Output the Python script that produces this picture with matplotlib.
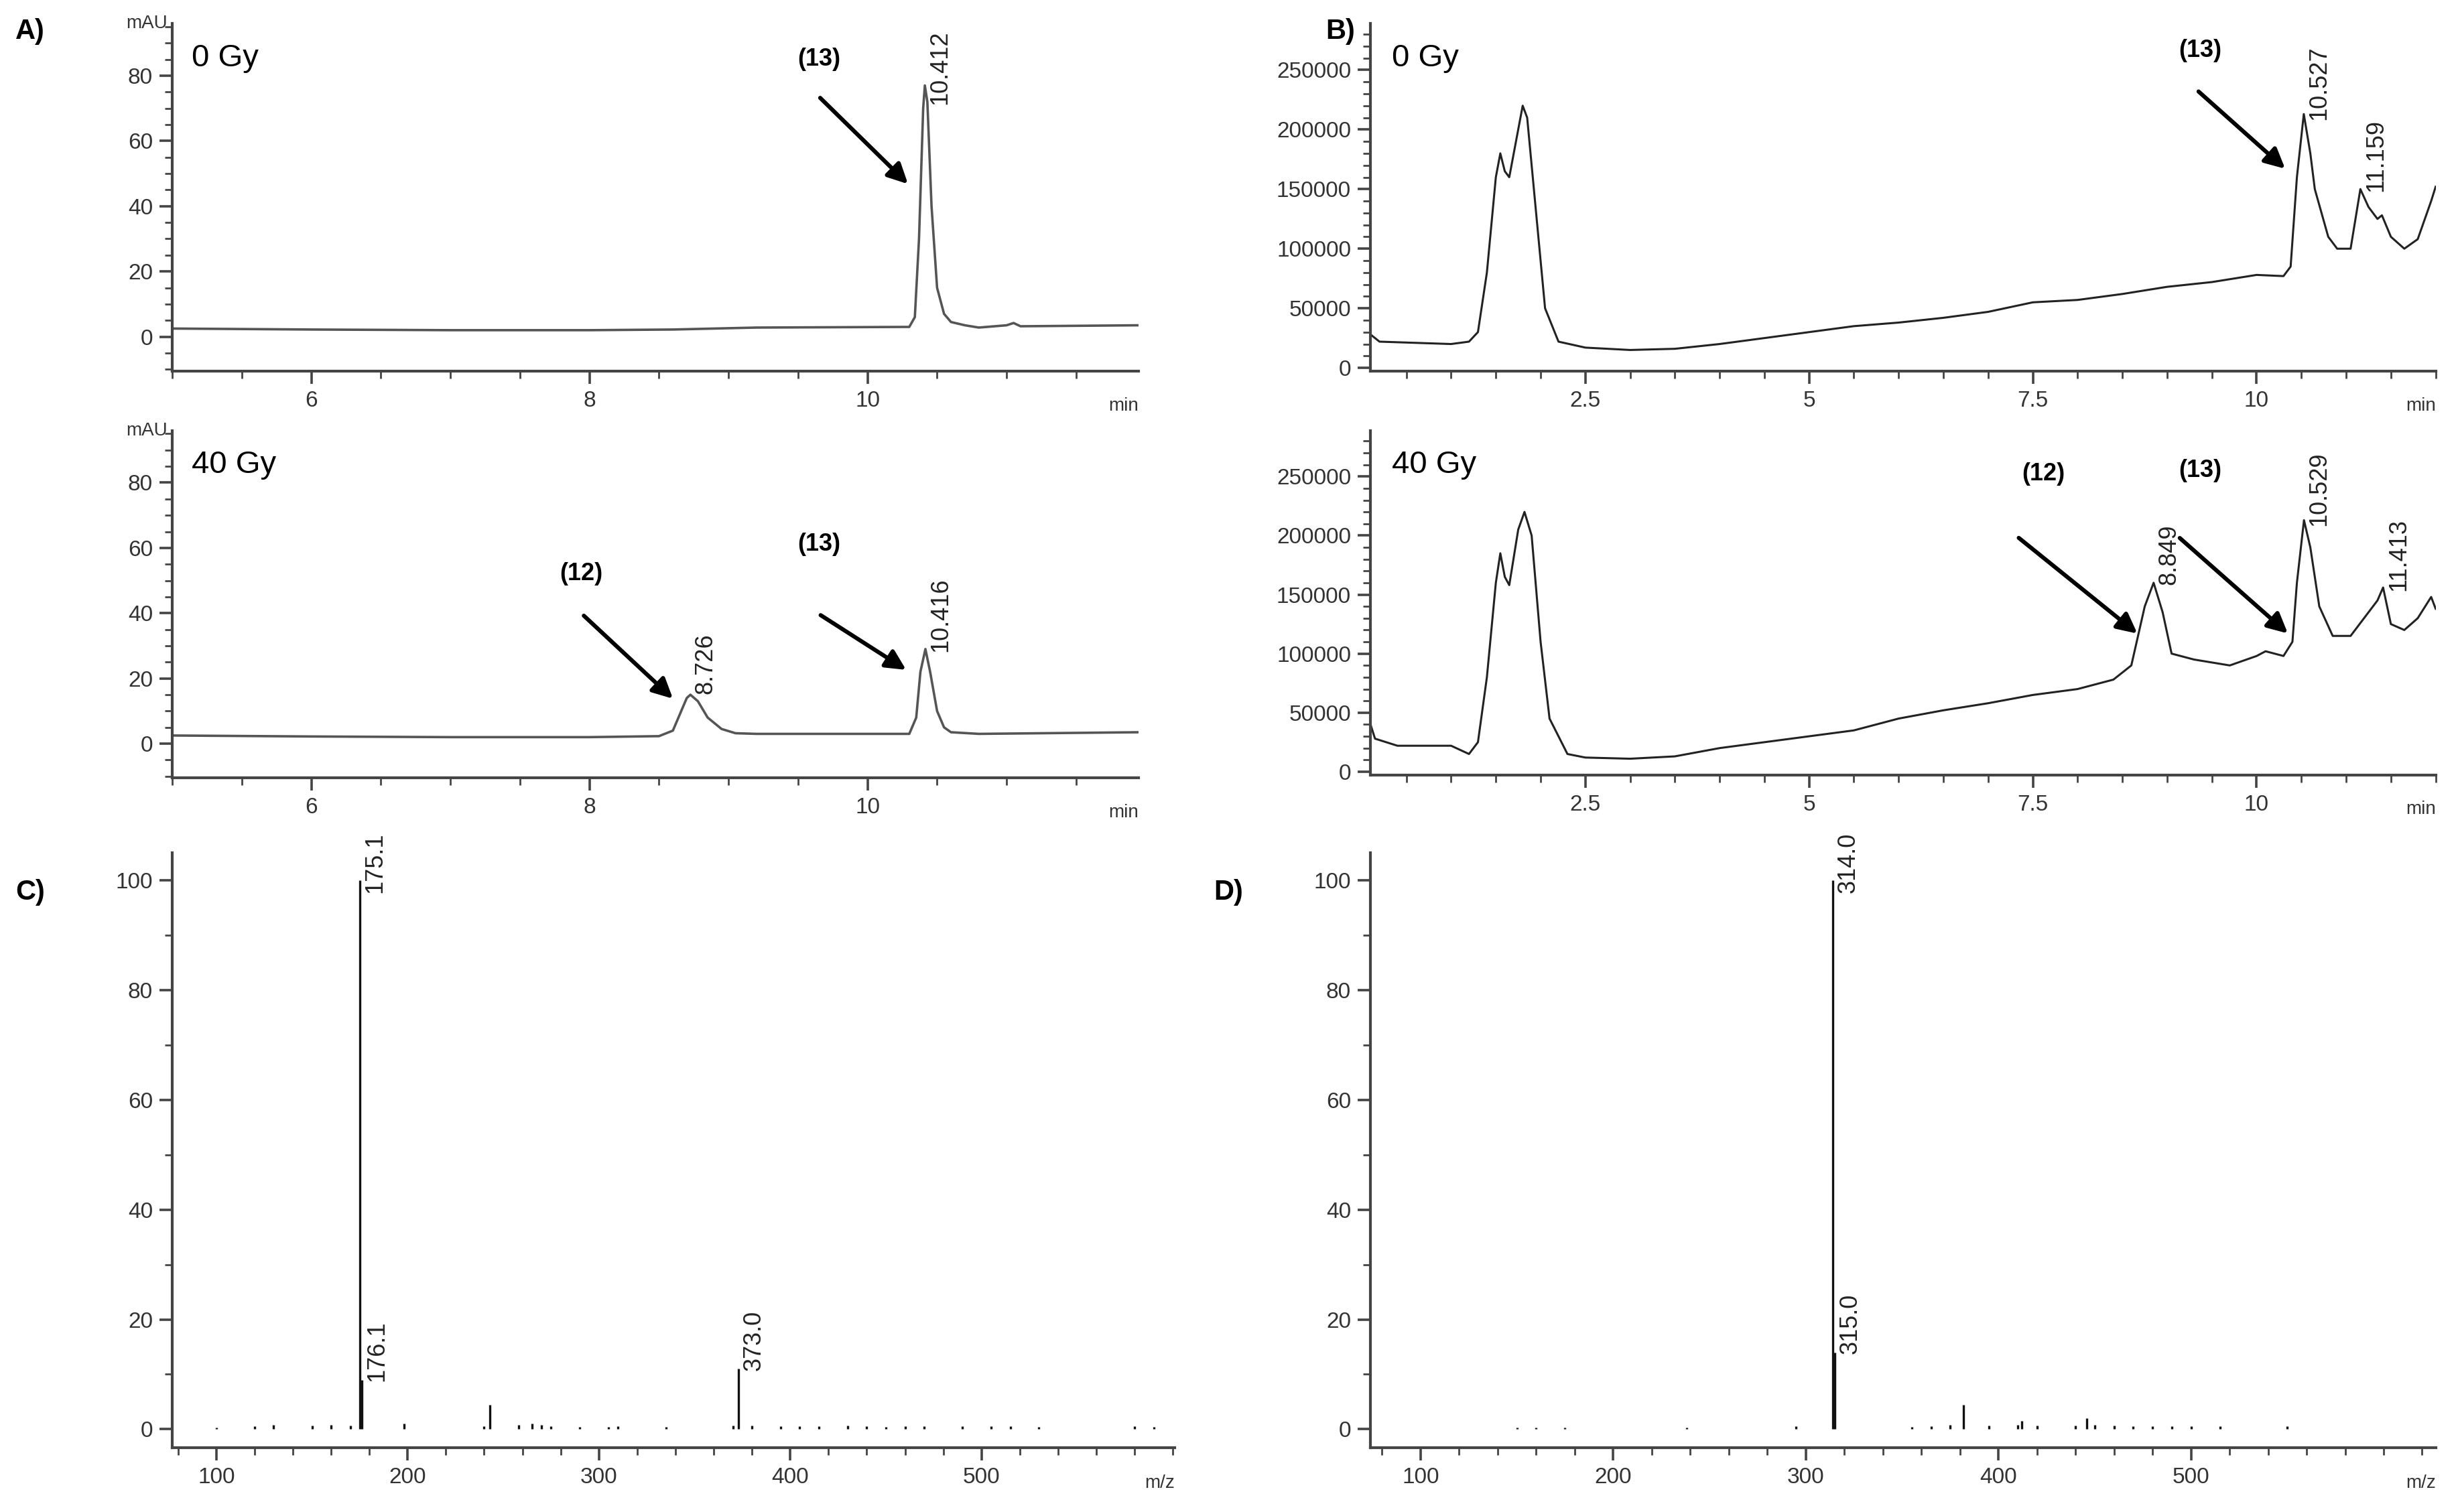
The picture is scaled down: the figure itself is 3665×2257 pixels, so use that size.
import matplotlib
matplotlib.use("Agg")
import matplotlib.pyplot as plt
from matplotlib.ticker import MultipleLocator

plt.rcParams['font.family'] = ['Liberation Sans', 'DejaVu Sans']

# ---- Data ----
a0_t = [5, 6, 7, 8, 8.6, 9.2, 10.3, 10.34, 10.37, 10.40, 10.412, 10.43, 10.46, 10.5, 10.55, 10.6, 10.7, 10.8, 11.0, 11.05, 11.1, 11.95]
a0_v = [2.5, 2.2, 2.0, 2.0, 2.2, 2.8, 3.0, 6, 30, 70, 77, 72, 40, 15, 7, 4.5, 3.5, 2.8, 3.5, 4.2, 3.2, 3.5]
a40_t = [5, 6, 7, 8, 8.5, 8.6, 8.65, 8.7, 8.726, 8.78, 8.85, 8.95, 9.05, 9.2, 10.3, 10.35, 10.38, 10.416, 10.45, 10.5, 10.55, 10.6, 10.8, 11.95]
a40_v = [2.5, 2.2, 2.0, 2.0, 2.3, 4, 9, 14, 15, 13, 8, 4.5, 3.2, 3, 3, 8, 22, 29, 22, 10, 5, 3.5, 3, 3.5]

b0_t = [0.1, 0.2, 1.0, 1.2, 1.3, 1.4, 1.5, 1.55, 1.6, 1.65, 1.75, 1.8, 1.85, 1.95, 2.05, 2.2, 2.5, 3, 3.5, 4, 4.5, 5, 5.5, 6, 6.5, 7, 7.5, 8, 8.5, 9, 9.5, 10, 10.3, 10.38, 10.45, 10.527, 10.6, 10.65, 10.8, 10.9, 11.05, 11.159, 11.25, 11.35, 11.4, 11.5, 11.65, 11.8, 11.95, 12.0]
b0_v = [28000, 22000, 20000, 22000, 30000, 80000, 160000, 180000, 165000, 160000, 200000, 220000, 210000, 130000, 50000, 22000, 17000, 15000, 16000, 20000, 25000, 30000, 35000, 38000, 42000, 47000, 55000, 57000, 62000, 68000, 72000, 78000, 77000, 85000, 160000, 213000, 180000, 150000, 110000, 100000, 100000, 150000, 135000, 125000, 128000, 110000, 100000, 108000, 140000, 152000]
b40_t = [0.1, 0.15, 0.4, 1.0, 1.2, 1.3, 1.4, 1.5, 1.55, 1.6, 1.65, 1.75, 1.82, 1.9, 2.0, 2.1, 2.3, 2.5, 3, 3.5, 4, 4.5, 5, 5.5, 6, 6.5, 7, 7.5, 8, 8.4, 8.6, 8.75, 8.849, 8.95, 9.05, 9.3, 9.7, 10, 10.1, 10.3, 10.4, 10.45, 10.529, 10.6, 10.7, 10.85, 11.05, 11.2, 11.35, 11.413, 11.5, 11.65, 11.8, 11.95, 12.0]
b40_v = [40000, 28000, 22000, 22000, 15000, 25000, 80000, 160000, 185000, 165000, 158000, 205000, 220000, 200000, 110000, 45000, 15000, 12000, 11000, 13000, 20000, 25000, 30000, 35000, 45000, 52000, 58000, 65000, 70000, 78000, 90000, 140000, 160000, 135000, 100000, 95000, 90000, 98000, 102000, 98000, 110000, 160000, 213000, 190000, 140000, 115000, 115000, 130000, 145000, 156000, 125000, 120000, 130000, 148000, 138000]

c_mz = [100, 120, 130, 150, 160, 170, 175.1, 176.1, 198, 240, 243, 258, 265, 270, 275, 290, 305, 310, 335, 370, 373.0, 380, 395, 405, 415, 430, 440, 450, 460, 470, 490, 505, 515, 530, 580, 590]
c_int = [0.3, 0.5, 0.8, 0.6, 0.8, 0.7, 100, 9, 1.0, 0.5, 4.5, 0.8, 1.0, 0.8, 0.5, 0.4, 0.4, 0.5, 0.4, 0.6, 11, 0.6, 0.5, 0.5, 0.5, 0.6, 0.5, 0.4, 0.5, 0.5, 0.5, 0.5, 0.5, 0.4, 0.5, 0.4]
d_mz = [150, 160, 175, 238, 295, 314.0, 315.0, 355, 365, 375, 382, 395, 410, 412, 420, 440, 446, 450, 460, 470, 480, 490, 500, 515, 550]
d_int = [0.3, 0.3, 0.3, 0.3, 0.5, 100, 14, 0.4, 0.5, 0.8, 4.5, 0.6, 0.8, 1.5, 0.6, 0.6, 2.0, 0.8, 0.6, 0.5, 0.5, 0.5, 0.5, 0.5, 0.5]
ms_ticks = [100, 200, 300, 400, 500]

W, H = 1568.0, 966.0
def box(x0, y0, x1, y1):
    return [x0 / W, 1 - y1 / H, (x1 - x0) / W, (y1 - y0) / H]

fig = plt.figure(figsize=(18.325, 11.285), dpi=200)
SP = '#444444'
TS = 12

def style(ax, xmaj, xmin, ymaj, ymin):
    for s in ['top', 'right']:
        ax.spines[s].set_visible(False)
    for s in ['left', 'bottom']:
        ax.spines[s].set_color(SP)
        ax.spines[s].set_linewidth(1.5)
    ax.xaxis.set_major_locator(MultipleLocator(xmaj))
    ax.xaxis.set_minor_locator(MultipleLocator(xmin))
    ax.yaxis.set_major_locator(MultipleLocator(ymaj))
    ax.yaxis.set_minor_locator(MultipleLocator(ymin))
    ax.tick_params(which='major', length=7, width=1.3, color=SP, labelsize=TS, labelcolor='#333333')
    ax.tick_params(which='minor', length=4, width=1.0, color=SP)

def arrow(ax, tail, head, label, lpos):
    ax.annotate('', xy=head, xytext=tail,
                arrowprops=dict(arrowstyle='-|>,head_length=0.9,head_width=0.45', color='black', lw=2.2))
    ax.text(lpos[0], lpos[1], label, fontsize=13, fontweight='bold', ha='center', va='center')

def peaklabel(ax, x, y, s):
    ax.annotate(s, (x, y), xytext=(2, 2), textcoords='offset points', rotation=90,
                ha='left', va='bottom', fontsize=13, color='#222222')

# ---- Panel A ----
for (y0, y1, t, v, lab) in [(15, 237, a0_t, a0_v, '0 Gy'), (275, 497, a40_t, a40_v, '40 Gy')]:
    ax = fig.add_axes(box(110, y0, 727, y1))
    ax.plot(t, v, color='#555555', lw=1.3)
    ax.set_xlim(5, 11.95)
    ax.set_ylim(-10.5, 96)
    style(ax, 2, 0.5, 20, 5)
    ax.set_yticks([0, 20, 40, 60, 80])
    ax.text(0.02, 0.9, lab, transform=ax.transAxes, fontsize=17, va='center')
    ax.text(-0.005, 1.0, 'mAU', transform=ax.transAxes, fontsize=10, ha='right', va='center', color='#333333')
    ax.text(1.0, -0.1, 'min', transform=ax.transAxes, fontsize=10, ha='right', va='center', color='#333333')
    if lab == '0 Gy':
        arrow(ax, (9.64, 74), (10.31, 46), '(13)', (9.65, 85))
        peaklabel(ax, 10.412, 70, '10.412')
        fig.text(10 / W, 1 - 20 / H, 'A)', fontsize=15, fontweight='bold', va='center')
    else:
        arrow(ax, (7.94, 40), (8.62, 13), '(12)', (7.94, 52))
        arrow(ax, (9.64, 40), (10.3, 22), '(13)', (9.65, 61))
        peaklabel(ax, 8.726, 14, '8.726')
        peaklabel(ax, 10.416, 27, '10.416')

# ---- Panel B ----
for (y0, y1, t, v, lab) in [(15, 237, b0_t, b0_v, '0 Gy'), (275, 495, b40_t, b40_v, '40 Gy')]:
    ax = fig.add_axes(box(875, y0, 1555, y1))
    ax.plot(t, v, color='#222222', lw=1.1)
    ax.set_xlim(0.1, 12.0)
    ax.set_ylim(-2600, 289000)
    style(ax, 2.5, 0.5, 50000, 10000)
    ax.set_xticks([2.5, 5, 7.5, 10])
    ax.set_xticklabels(['2.5', '5', '7.5', '10'])
    ax.text(0.02, 0.9, lab, transform=ax.transAxes, fontsize=17, va='center')
    ax.text(1.0, -0.1, 'min', transform=ax.transAxes, fontsize=10, ha='right', va='center', color='#333333')
    if lab == '0 Gy':
        arrow(ax, (9.32, 234000), (10.35, 165000), '(13)', (9.37, 266000))
        peaklabel(ax, 10.527, 205000, '10.527')
        peaklabel(ax, 11.159, 145000, '11.159')
        fig.text(865 / W, 1 - 20 / H, 'B)', fontsize=15, fontweight='bold', va='center', ha='right')
    else:
        arrow(ax, (7.31, 200000), (8.7, 115000), '(12)', (7.62, 252000))
        arrow(ax, (9.11, 200000), (10.38, 115000), '(13)', (9.37, 255000))
        peaklabel(ax, 8.849, 155000, '8.849')
        peaklabel(ax, 10.529, 205000, '10.529')
        peaklabel(ax, 11.413, 150000, '11.413')

# ---- Panels C, D ----
for (x0, x1, mz, it, xlim, plab, labels) in [
        (110, 750, c_mz, c_int, (77, 601), 'C)', [(175.1, 97, '175.1'), (176.1, 8, '176.1'), (373.0, 10, '373.0')]),
        (875, 1555, d_mz, d_int, (74, 627), 'D)', [(314.0, 97, '314.0'), (315.0, 13, '315.0')])]:
    ax = fig.add_axes(box(x0, 545, x1, 925))
    ax.vlines(mz, 0, it, color='#111111', lw=1.2)
    ax.set_xlim(*xlim)
    ax.set_ylim(-3.4, 105)
    style(ax, 100, 20, 20, 10)
    ax.set_xticks(ms_ticks)
    ax.set_yticks([0, 20, 40, 60, 80, 100])
    ax.text(1.0, -0.06, 'm/z', transform=ax.transAxes, fontsize=10, ha='right', va='center', color='#333333')
    for (x, y, s) in labels:
        peaklabel(ax, x, y, s)
    fig.text((x0 - 100) / W, 1 - 570 / H, plab, fontsize=15, fontweight='bold', va='center')

fig.savefig('out.png', dpi=200, facecolor='white')
